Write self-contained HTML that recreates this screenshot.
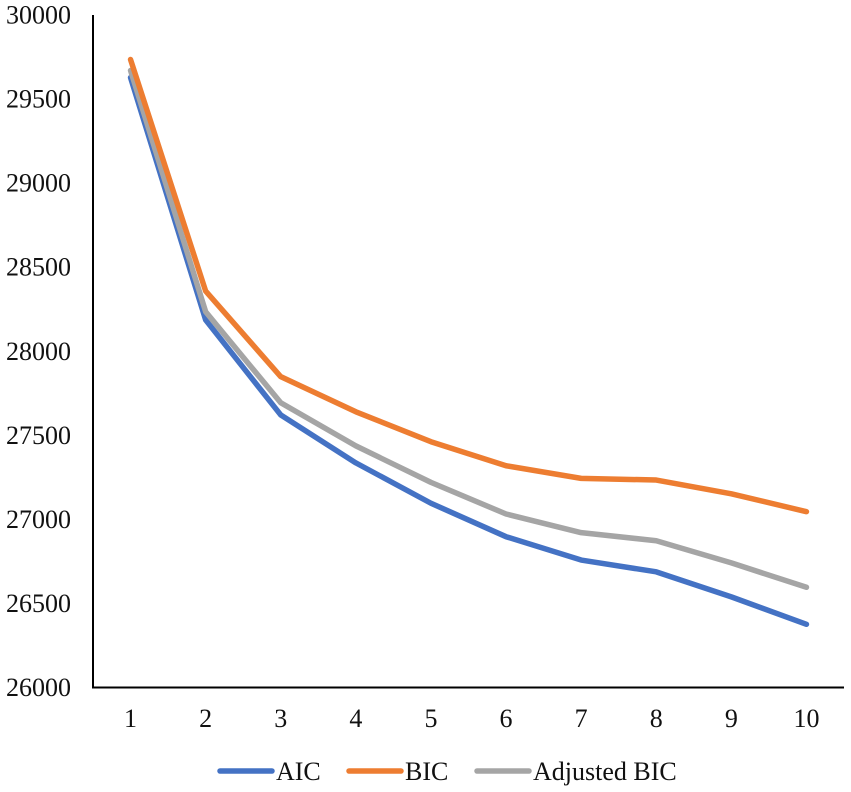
<!DOCTYPE html>
<html>
<head>
<meta charset="utf-8">
<style>
html,body{margin:0;padding:0;background:#fff;}
svg{display:block;}
text{font-family:"Liberation Serif",serif;font-size:26px;fill:#111;}
</style>
</head>
<body>
<svg id="chart" xmlns="http://www.w3.org/2000/svg" width="851" height="792" viewBox="0 0 851 792"></svg>
<script>
const categories = [1, 2, 3, 4, 5, 6, 7, 8, 9, 10];
const yTicks = [26000, 26500, 27000, 27500, 28000, 28500, 29000, 29500, 30000];
const aicValues = [29628, 28186, 27621, 27336, 27096, 26897, 26758, 26688, 26539, 26376];
const bicValues = [29735, 28358, 27849, 27640, 27462, 27319, 27244, 27234, 27152, 27046];
const adjustedBicValues = [29670, 28235, 27694, 27437, 27220, 27032, 26921, 26873, 26741, 26596];

const NS = 'http://www.w3.org/2000/svg';
const svg = document.getElementById('chart');
const plotLeft = 93, plotRight = 844, plotTop = 15, plotBottom = 687.5;
const yMin = 26000, yMax = 30000;

function xScale(i) {
  return plotLeft + (plotRight - plotLeft) * (i + 0.5) / categories.length;
}
function yScale(v) {
  return plotBottom - (v - yMin) / (yMax - yMin) * (plotBottom - plotTop);
}
function make(tag, attrs, text) {
  const el = document.createElementNS(NS, tag);
  for (const k in attrs) el.setAttribute(k, attrs[k]);
  if (text !== undefined) el.textContent = text;
  svg.appendChild(el);
  return el;
}

const yAxis = make('line', {x1: plotLeft, y1: plotTop, x2: plotLeft, y2: plotBottom, stroke: '#000', 'stroke-width': 2});


const xAxis = make('line', {x1: plotLeft - 1, y1: plotBottom, x2: plotRight, y2: plotBottom, stroke: '#000', 'stroke-width': 2});



yTicks.forEach(function (t) {
  const el = make('text', {x: 71, y: yScale(t) + 8.5, 'text-anchor': 'end'}, String(t));
  
  
});
categories.forEach(function (c, i) {
  const el = make('text', {x: xScale(i), y: 727, 'text-anchor': 'middle'}, String(c));
  
  
});

function drawSeries(values, color) {
  const pts = values.map(function (v, i) { return xScale(i) + ',' + yScale(v); }).join(' ');
  return make('polyline', {points: pts, fill: 'none', stroke: color, 'stroke-width': 5.5, 'stroke-linecap': 'round', 'stroke-linejoin': 'round'});
}
const aicLine = drawSeries(aicValues, '#4472c4');


const bicLine = drawSeries(bicValues, '#ed7d31');


const adjustedLine = drawSeries(adjustedBicValues, '#a5a5a5');


svg.appendChild(bicLine);

function legendSwatch(x, color) {
  return make('line', {x1: x, y1: 771, x2: x + 52, y2: 771, stroke: color, 'stroke-width': 5.5, 'stroke-linecap': 'round'});
}
const s1 = legendSwatch(220, '#4472c4');


const t1 = make('text', {x: 276, y: 780}, 'AIC');


const s2 = legendSwatch(349, '#ed7d31');


const t2 = make('text', {x: 405, y: 780}, 'BIC');


const s3 = legendSwatch(477, '#a5a5a5');


const t3 = make('text', {x: 533, y: 780}, 'Adjusted BIC');


</script>
</body>
</html>
